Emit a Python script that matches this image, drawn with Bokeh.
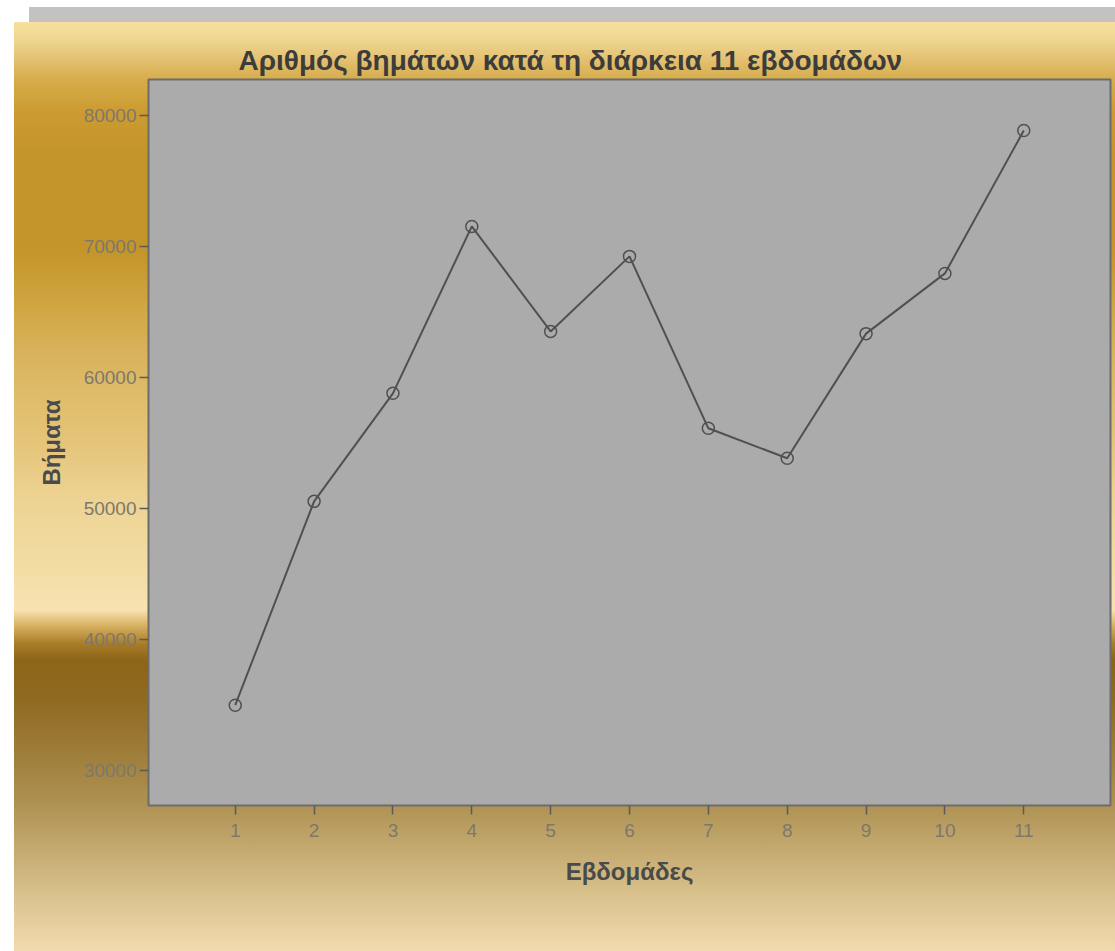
from bokeh.plotting import figure
from bokeh.models import Range1d, FixedTicker, ColumnDataSource
from bokeh.embed import file_html
from bokeh.resources import INLINE

# ---- data ----
weeks = [1, 2, 3, 4, 5, 6, 7, 8, 9, 10, 11]
steps = [34960, 50530, 58780, 71530, 63510, 69240, 56110, 53820, 63340, 67940, 78850]
x_ticks = [1, 2, 3, 4, 5, 6, 7, 8, 9, 10, 11]
y_ticks = [30000, 40000, 50000, 60000, 70000, 80000]
title_text = "Αριθμός βημάτων κατά τη διάρκεια 11 εβδομάδων"
x_label = "Εβδομάδες"
y_label = "Βήματα"

src = ColumnDataSource(dict(x=weeks, y=steps))

FONT = "Liberation Sans"

p = figure(width=1115, height=951, output_backend="svg", toolbar_location=None,
           x_range=Range1d(-0.1, 12.1), y_range=Range1d(27300, 82750),
           min_border_left=148, min_border_right=5, min_border_top=79, min_border_bottom=146)

gold = ("linear-gradient(to bottom, #f7e0a0 0px, #efd690 18px, #e3c070 38px, #d6ac4a 58px, "
        "#cc9c32 88px, #c4952a 130px, #c4952a 230px, #cfa440 278px, #d8b25a 328px, "
        "#dfbd6c 378px, #e6c67c 428px, #edd394 478px, #f2dca2 538px, #f8e2b0 588px, "
        "#d6b060 604px, #a87c28 622px, #8d6518 638px, #8f6a22 678px, #9e7c38 728px, "
        "#ad9050 778px, #c4aa70 828px, #dcc490 878px, #f2dab0 929px)")
p.styles = {
    "background": ("linear-gradient(#c4c2c0, #c4c2c0) 29px 7px / calc(100% - 29px) 15px no-repeat, "
                   + gold + " 14px 22px / calc(100% - 14px) calc(100% - 22px) no-repeat, #ffffff"),
}
p.border_fill_alpha = 0
p.background_fill_color = "#ababab"
p.outline_line_color = "#6c6c6c"
p.outline_line_width = 2

p.line("x", "y", source=src, line_color="#505050", line_width=2)
p.scatter("x", "y", source=src, size=12, marker="circle", fill_color=None,
          line_color="#505050", line_width=1.5)

p.title.text = title_text
p.title.align = "left"
p.title.offset = 90
p.title.text_font = FONT
p.title.text_font_size = "28px"
p.title.text_font_style = "bold"
p.title.text_color = "#3c3c3c"
p.title.standoff = 8

p.xgrid.visible = False
p.ygrid.visible = False

p.xaxis.ticker = FixedTicker(ticks=x_ticks)
p.yaxis.ticker = FixedTicker(ticks=y_ticks)
p.xaxis.minor_tick_line_color = None
p.yaxis.minor_tick_line_color = None
for ax in (p.xaxis[0], p.yaxis[0]):
    ax.axis_line_color = None
    ax.major_tick_line_color = "#5a5a5a"
    ax.major_tick_line_width = 1.5
    ax.major_tick_in = 0
    ax.major_tick_out = 9
    ax.major_label_text_font = FONT
    ax.major_label_text_font_size = "19px"
    ax.major_label_text_color = "#7d786c"
    ax.axis_label_text_font = FONT
    ax.axis_label_text_font_style = "bold"
    ax.axis_label_text_font_size = "24px"
    ax.axis_label_text_color = "#4a4a4a"
    ax.major_label_standoff = 3

p.xaxis.major_label_standoff = 9
p.xaxis.axis_label = x_label
p.yaxis.axis_label = y_label
p.xaxis.axis_label_standoff = 18
p.yaxis.axis_label_standoff = 16

open("out.html", "w").write(file_html(p, INLINE))
